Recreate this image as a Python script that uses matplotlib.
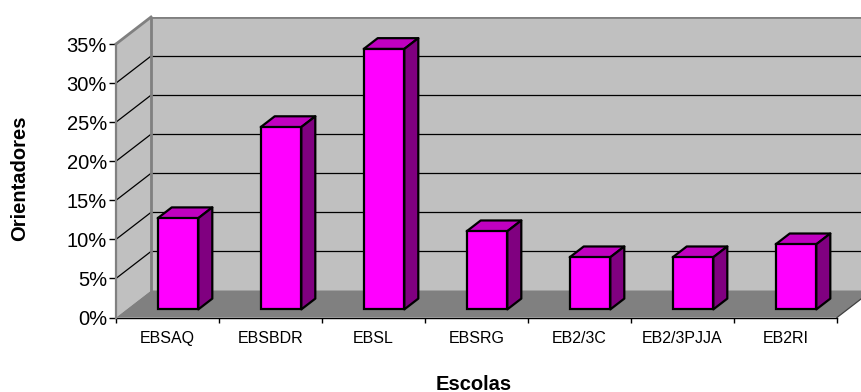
import numpy as np
import matplotlib
matplotlib.use("Agg")
import matplotlib.pyplot as plt
from matplotlib.patches import Polygon
from matplotlib.ticker import PercentFormatter

plt.rcParams['font.family'] = ['Liberation Sans', 'DejaVu Sans']

# data
escolas = ["EBSAQ", "EBSBDR", "EBSL", "EBSRG", "EB2/3C", "EB2/3PJJA", "EB2RI"]
orientadores = [11.67, 23.33, 33.33, 10.0, 6.67, 6.67, 8.33]  # percent
yticks = [0, 5, 10, 15, 20, 25, 30, 35]

# 3D look (depth offset of the back wall, in data units)
DX, DY = 0.34, 3.455
YMAX = 35
n = len(escolas)
bar_w = 0.394
f0, fd = 0.3, 0.4          # bar front position / bar depth as fraction of full depth

fig = plt.figure(figsize=(8.62, 3.92), dpi=100)
ax = fig.add_axes([116 / 862, 1 - 317.5 / 392, (862 - 116) / 862, (317.5 - 17) / 392])
ax.set_xlim(0, 746 / 103)
ax.set_ylim(0, 300.5 / 7.814)

wall = "#C0C0C0"
edge_gray = "#808080"

# walls and floor
ax.add_patch(Polygon([(DX, DY), (n + DX + 1, DY), (n + DX + 1, YMAX + DY), (DX, YMAX + DY)],
                     closed=True, fc=wall, ec="none", zorder=0))
ax.add_patch(Polygon([(0, 0), (DX, DY), (DX, YMAX + DY), (0, YMAX)],
                     closed=True, fc=wall, ec="none", zorder=0, clip_on=False))
ax.add_patch(Polygon([(0, 0), (n, 0), (n + DX, DY), (DX, DY)],
                     closed=True, fc=edge_gray, ec="none", zorder=1))

# gridlines on back wall and side wall
for t in yticks[1:-1]:
    ax.plot([DX, n + DX + 1], [t + DY, t + DY], color="black", lw=0.9, zorder=2)
    ax.plot([0, DX], [t, t + DY], color="black", lw=0.9, zorder=2, clip_on=False)

# wall edges
ax.plot([DX, DX], [DY, YMAX + DY], color=edge_gray, lw=2, zorder=2)
ax.plot([DX, n + DX + 1], [YMAX + DY, YMAX + DY], color=edge_gray, lw=2, zorder=2)
ax.plot([0, DX], [YMAX, YMAX + DY], color=edge_gray, lw=2, zorder=2, clip_on=False)
ax.plot([n, n + DX], [0, DY], color="#404040", lw=0.9, zorder=2)

# bars
x = np.arange(n) + 0.5
x0 = x - bar_w / 2 + f0 * DX
by = f0 * DY
ddx, ddy = fd * DX, fd * DY
ax.bar(x0, orientadores, width=bar_w, bottom=by, align="edge",
       color="#FF00FF", edgecolor="black", linewidth=1.6, zorder=5)
for xl, v in zip(x0, orientadores):
    top = by + v
    ax.add_patch(Polygon([(xl, top), (xl + bar_w, top), (xl + bar_w + ddx, top + ddy), (xl + ddx, top + ddy)],
                         closed=True, fc="#C000C0", ec="black", lw=1.6, joinstyle="round", zorder=4))
    ax.add_patch(Polygon([(xl + bar_w, by), (xl + bar_w + ddx, by + ddy), (xl + bar_w + ddx, top + ddy), (xl + bar_w, top)],
                         closed=True, fc="#800080", ec="black", lw=1.6, joinstyle="round", zorder=4))

# axes
for s in ["top", "right"]:
    ax.spines[s].set_visible(False)
ax.spines["left"].set_bounds(0, YMAX)
ax.spines["left"].set_color(edge_gray)
ax.spines["left"].set_linewidth(1.6)
ax.spines["left"].set_zorder(3)
ax.spines["bottom"].set_bounds(0, n)
ax.spines["bottom"].set_color("black")
ax.spines["bottom"].set_linewidth(1)

ax.set_yticks(yticks)
ax.yaxis.set_major_formatter(PercentFormatter(decimals=0))
ax.tick_params(axis="y", direction="out", length=5, width=1, color="black", pad=1.5, labelsize=14.5)

ax.set_xticks(np.arange(n + 1))
ax.set_xticklabels([])
ax.set_xticks(x, minor=True)
ax.set_xticklabels(escolas, minor=True)
ax.tick_params(axis="x", which="major", direction="out", length=3.6, width=1, color="black")
ax.tick_params(axis="x", which="minor", length=0, pad=9.5, labelsize=11.5)

fig.text(474 / 862, 1 - 384 / 392, "Escolas", ha="center", va="center",
         fontsize=14.5, fontweight="bold")
fig.text(20 / 862, 1 - 178 / 392, "Orientadores", ha="center", va="center",
         rotation=90, fontsize=14.5, fontweight="bold")

fig.savefig("out.png", dpi=100)
